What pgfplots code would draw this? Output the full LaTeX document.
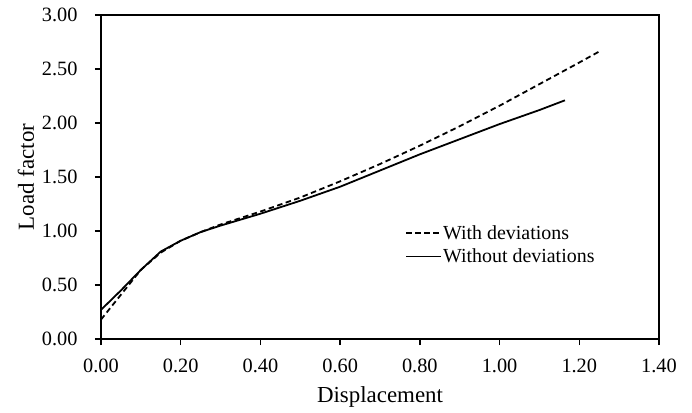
\documentclass[border=0pt]{standalone}
\usepackage{pgfplots}
\pgfplotsset{compat=1.18}
\usepackage{fontspec}
\setmainfont{Liberation Serif}
\begin{document}
\begin{tikzpicture}
\useasboundingbox (-101bp,-74bp) rectangle (591bp,339bp);
\begin{axis}[
  scale only axis, width=558bp, height=324bp,
  xmin=0, xmax=1.4, ymin=0, ymax=3,
  xtick={0,0.2,...,1.4}, ytick={0,0.5,...,3},
  /pgf/number format/fixed, /pgf/number format/fixed zerofill, /pgf/number format/precision=2,
  /pgf/number format/assume math mode=true,
  tick label style={font=\fontsize{20.4}{24}\selectfont},
  label style={font=\fontsize{23}{27}\selectfont},
  xlabel={Displacement}, ylabel={Load factor},
  tick align=outside, tick pos=left,
  major tick length=6bp,
  every tick/.style={black, line width=1.5bp},
  axis line style={line width=1.5bp},
  xtick style={line width=1.5bp}, ytick style={line width=1.5bp},
  yticklabel shift=14bp,
  xticklabel style={yshift=-10bp},
  xlabel style={yshift=-7bp},
  ylabel style={yshift=1bp},
  legend style={draw=none, fill=none, at={(axis cs:0.763,1.09)}, anchor=north west,
    font=\fontsize{20}{24}\selectfont, row sep=4bp, inner xsep=0pt,
    nodes={inner xsep=1bp}},
  legend cell align=left,
  legend image code/.code={\draw[#1, line width=1.8bp] (0bp,0bp) -- (35bp,0bp);},
]
\addplot[black, line width=1.8bp, dash pattern=on 5.5bp off 3.5bp] coordinates {
(0,0.18) (0.05,0.41) (0.10,0.64) (0.15,0.80) (0.20,0.91) (0.25,0.99) (0.30,1.06)
(0.40,1.18) (0.50,1.31) (0.60,1.46) (0.70,1.62) (0.80,1.79) (0.90,1.97)
(1.00,2.16) (1.10,2.36) (1.20,2.56) (1.254,2.67)};
\addlegendentry{With deviations}
\addplot[black, line width=1.8bp] coordinates {
(0,0.27) (0.05,0.45) (0.10,0.64) (0.15,0.81) (0.20,0.91) (0.25,0.99) (0.30,1.05)
(0.40,1.16) (0.50,1.28) (0.60,1.41) (0.70,1.56) (0.80,1.71) (0.90,1.85)
(1.00,1.99) (1.10,2.12) (1.164,2.21)};
\addlegendentry{Without deviations}
\end{axis}
\end{tikzpicture}
\end{document}
